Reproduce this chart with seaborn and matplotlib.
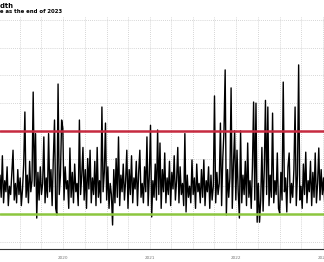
import numpy as np
import pandas as pd
import matplotlib
matplotlib.use("Agg")
import matplotlib.pyplot as plt
import matplotlib.dates as mdates
import seaborn as sns

# ---- data ----
title = "S&P 500 Breadth"
subtitle = "Breadth is the same as the end of 2023"
start_date = "2019-10-09"
step_days = 5
breadth = [
    24, 16, 31, 14, 22, 18, 27, 13, 20, 17,
    25, 33, 15, 21, 14, 26, 17, 23, 13, 19,
    28, 46.8, 16, 24, 14, 29, 18, 22, 54, 20,
    39, 8.5, 25, 15, 27, 17, 21, 37.8, 14, 23,
    16, 39, 18, 26, 13, 30, 43.9, 12, 9.6, 56.9,
    17, 24, 43.9, 41, 15, 27, 19, 22, 12, 33.8,
    16, 25, 14, 28, 18, 21, 13, 43.9, 17, 24,
    34, 15, 26, 12, 30, 19, 33, 14, 23, 17,
    29, 13, 34, 16, 22, 14, 48.6, 18, 25, 42.8,
    15, 27, 12, 21, 17, 6, 26, 14, 30, 16,
    37.8, 13, 24, 18, 28, 15, 22, 33, 12, 26,
    17, 31, 14, 23, 19, 29, 13, 25, 33, 16,
    21, 14, 27, 18, 37.8, 13, 24, 42, 8.9, 22,
    16, 28, 15, 40.3, 17, 35.6, 12, 26, 18, 32,
    14, 23, 17, 29, 13, 25, 19, 31, 15, 22,
    34, 14, 27, 17, 21, 13, 39, 10.7, 24, 16,
    20, 14, 29.5, 17, 23, 12, 28, 18, 21, 14,
    26, 16, 29.5, 13, 22, 18, 27, 12, 24, 15,
    20, 52.6, 14, 25, 17, 21, 42.8, 13, 30, 40,
    62, 9.6, 26, 16, 23, 55.5, 12, 28, 40, 15,
    33, 18, 8.5, 40, 14, 24, 17, 29, 13, 35.6,
    16, 22, 12, 27, 50.4, 15, 50, 7, 21, 7,
    15, 34, 11, 26, 51, 17, 48.6, 13, 24, 16,
    46.4, 14, 22, 17, 32, 12, 10.3, 25, 15, 57.6,
    18, 23, 10.7, 27, 32, 14, 21, 16, 26, 48.6,
    13, 24, 63.8, 15, 20, 12, 28, 17, 32.3, 14,
    22, 18, 29, 13, 25, 16, 32, 14, 21, 33.8,
    15, 26, 17, 23, 14,
]
upper_level = 40
lower_level = 10
year_labels = ["2020", "2021", "2022", "2023"]
year_label_dates = ["2020-07-01", "2021-07-01", "2022-07-01", "2023-07-01"]
x_start, x_end = "2019-10-09", "2023-07-07"
y_min, y_max = -2.67, 81.1

# ---- figure ----
sns.set_style("white")
fig = plt.figure(figsize=(3.24, 2.62), dpi=100)
ax = fig.add_axes([0, 13 / 262, 1, 232 / 262])

df = pd.DataFrame({
    "date": pd.date_range(start_date, periods=len(breadth), freq=f"{step_days}D"),
    "value": breadth,
})
sns.lineplot(data=df, x="date", y="value", ax=ax, color="black", lw=1.0, zorder=3)
ax.axhline(upper_level, color="#c62a40", lw=1.8, zorder=4)
ax.axhline(lower_level, color="#8cc63f", lw=1.8, zorder=4)

ax.set_xlim(pd.Timestamp(x_start), pd.Timestamp(x_end))
ax.set_ylim(y_min, y_max)

grid_kw = dict(ls=(0, (1, 1.5)), color="#c8c8c8", lw=0.6)
ax.set_yticks(range(0, 81, 10))
ax.yaxis.grid(True, **grid_kw)
ax.tick_params(axis="y", length=0, labelleft=False)
for q in pd.date_range("2019-10-01", "2023-07-01", freq="QS"):
    ax.axvline(q, zorder=0, **grid_kw)

ax.xaxis.set_major_locator(mdates.YearLocator())
ax.xaxis.set_minor_locator(mdates.MonthLocator())
ax.tick_params(axis="x", which="major", length=9.4, color="#bbbbbb", width=0.6,
               labelbottom=False)
ax.tick_params(axis="x", which="minor", length=2.5, direction="inout",
               color="#555555", width=0.5)
for s in ["top", "left", "right"]:
    ax.spines[s].set_visible(False)
ax.spines["bottom"].set_color("#333333")
ax.spines["bottom"].set_linewidth(0.8)
ax.set_xlabel("")
ax.set_ylabel("")

for lbl, d in zip(year_labels, year_label_dates):
    ax.text(pd.Timestamp(d), -9 / 232, lbl, transform=ax.get_xaxis_transform(),
            ha="center", va="center", fontsize=3, color="#777777")

fig.text(13 / 324, 1 - 7.7 / 262, title, ha="right", va="baseline",
         fontsize=4.9, fontweight="bold", color="black")
fig.text(62 / 324, 1 - 13.3 / 262, subtitle, ha="right", va="baseline",
         fontsize=3.9, fontweight="bold", color="black")

fig.savefig("out.png", dpi=100)
